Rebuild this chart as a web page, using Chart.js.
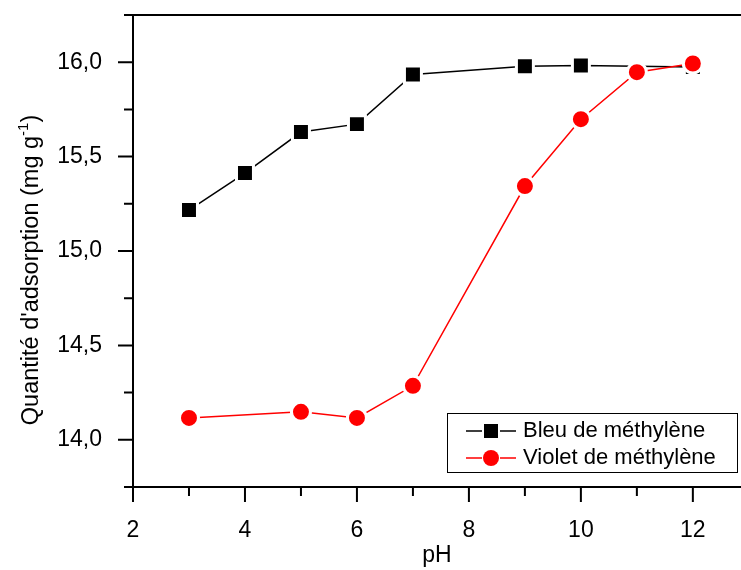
<!DOCTYPE html>
<html>
<head>
<meta charset="utf-8">
<script src="https://cdn.jsdelivr.net/npm/chart.js@4/dist/chart.umd.min.js"></script>
<style>
  html, body { margin: 0; padding: 0; background: #fff; }
  canvas { display: block; }
</style>
</head>
<body>
<canvas id="chart" width="741" height="570"></canvas>
<script>
const phBleu = [3, 4, 5, 6, 7, 9, 10, 12]
const bleu = [15.217, 15.413, 15.630, 15.672, 15.935, 15.979, 15.983, 15.975]
const phViolet = [3, 5, 6, 7, 9, 10, 11, 12]
const violet = [14.116, 14.148, 14.116, 14.286, 15.344, 15.698, 15.947, 15.993]
const seriesNames = ['Bleu de méthylène', 'Violet de méthylène']
const xLabels = [2, 4, 6, 8, 10, 12]
const yLabels = [14.0, 14.5, 15.0, 15.5, 16.0]

const FONT = '"Liberation Sans", Arial, sans-serif'

const isMajor = (v, step) => Math.abs(v / step - Math.round(v / step)) < 1e-6

// Origin-like axes: frame, outward ticks (major / minor), titles, boxed legend
const originPlugin = {
  id: 'originLook',
  afterDraw(chart) {
    const { ctx, chartArea: a, scales: { x, y } } = chart
    ctx.save()
    ctx.strokeStyle = '#000'
    ctx.lineWidth = 2
    ctx.lineCap = 'butt'

    ctx.beginPath()
    ctx.moveTo(a.left - 7, a.top); ctx.lineTo(a.right, a.top)
    ctx.moveTo(a.left, a.top); ctx.lineTo(a.left, a.bottom)
    ctx.moveTo(a.left - 7, a.bottom); ctx.lineTo(a.right, a.bottom)
    ctx.stroke()

    ctx.beginPath()
    y.ticks.forEach(t => {
      const py = y.getPixelForValue(t.value)
      const len = isMajor(t.value, 0.5) ? 15 : 9
      ctx.moveTo(a.left, py); ctx.lineTo(a.left - len, py)
    })
    x.ticks.forEach(t => {
      if (!Number.isInteger(t.value)) return
      const px = x.getPixelForValue(t.value)
      const len = t.value % 2 === 0 ? 15 : 9
      ctx.moveTo(px, a.bottom); ctx.lineTo(px, a.bottom + len)
    })
    ctx.stroke()

    // x title
    ctx.fillStyle = '#000'
    ctx.font = `23px ${FONT}`
    ctx.textAlign = 'center'
    ctx.textBaseline = 'alphabetic'
    ctx.fillText('pH', (a.left + a.right) / 2, 562)

    // y title with superscript
    const main = "Quantité d'adsorption (mg g"
    const sup = '-1'
    const tail = ')'
    ctx.save()
    ctx.translate(38, 270)
    ctx.rotate(-Math.PI / 2)
    ctx.font = `23.5px ${FONT}`
    const wMain = ctx.measureText(main).width
    const wTail = ctx.measureText(tail).width
    ctx.font = `15px ${FONT}`
    const wSup = ctx.measureText(sup).width
    let tx = -(wMain + wSup + wTail) / 2
    ctx.textAlign = 'left'
    ctx.font = `23.5px ${FONT}`
    ctx.fillText(main, tx, 0)
    tx += wMain
    ctx.font = `15px ${FONT}`
    ctx.fillText(sup, tx, -10)
    tx += wSup
    ctx.font = `23.5px ${FONT}`
    ctx.fillText(tail, tx, 0)
    ctx.restore()

    // legend box
    const box = { left: 447, top: 413, right: 737, bottom: 472 }
    ctx.lineWidth = 1
    ctx.strokeRect(box.left + 0.5, box.top + 0.5, box.right - box.left, box.bottom - box.top)
    const rows = [431, 458]
    chart.data.datasets.forEach((ds, i) => {
      const ry = rows[i]
      const mx = 491
      ctx.strokeStyle = ds.borderColor
      ctx.lineWidth = 1.5
      ctx.beginPath()
      ctx.moveTo(466, ry); ctx.lineTo(mx - 9, ry)
      ctx.moveTo(mx + 9, ry); ctx.lineTo(516, ry)
      ctx.stroke()
      ctx.fillStyle = ds.pointBackgroundColor
      if (ds.pointStyle === 'rect') {
        ctx.fillRect(mx - 7, ry - 7, 14, 14)
      } else {
        ctx.beginPath()
        ctx.arc(mx, ry, 8, 0, Math.PI * 2)
        ctx.fill()
      }
      ctx.fillStyle = '#000'
      ctx.font = `22px ${FONT}`
      ctx.textAlign = 'left'
      ctx.textBaseline = 'middle'
      ctx.fillText(ds.label, 523, ry)
    })
    ctx.restore()
  }
}

new Chart(document.getElementById('chart'), {
  type: 'line',
  data: {
    datasets: [
      {
        label: seriesNames[0],
        data: phBleu.map((p, i) => ({ x: p, y: bleu[i] })),
        borderColor: '#000000',
        borderWidth: 1.5,
        pointStyle: 'rect',
        pointRadius: 12,
        pointBackgroundColor: '#000000',
        pointBorderColor: '#ffffff',
        pointBorderWidth: 3,
        tension: 0,
        order: 1
      },
      {
        label: seriesNames[1],
        data: phViolet.map((p, i) => ({ x: p, y: violet[i] })),
        borderColor: '#ff0000',
        borderWidth: 1.5,
        pointStyle: 'circle',
        pointRadius: 9.5,
        pointBackgroundColor: '#ff0000',
        pointBorderColor: '#ffffff',
        pointBorderWidth: 3,
        tension: 0,
        order: 0
      }
    ]
  },
  options: {
    responsive: false,
    animation: false,
    events: [],
    clip: false,
    layout: { autoPadding: false, padding: { top: 15, right: 0, left: 0, bottom: 0 } },
    plugins: {
      legend: { display: false },
      tooltip: { enabled: false }
    },
    scales: {
      x: {
        type: 'linear',
        min: 2,
        max: 12.86,
        grid: { display: false },
        border: { display: false },
        ticks: {
          stepSize: 1,
          includeBounds: false,
          autoSkip: false,
          maxRotation: 0,
          padding: 22,
          color: '#000',
          font: { family: FONT, size: 23 },
          callback: v => xLabels.includes(v) ? String(v) : ''
        },
        afterFit: s => {
          s.height = 83
          s.paddingLeft = 0
          s.paddingRight = 0
        }
      },
      y: {
        min: 13.75,
        max: 16.25,
        grid: { display: false },
        border: { display: false },
        ticks: {
          stepSize: 0.25,
          autoSkip: false,
          padding: 23,
          color: '#000',
          font: { family: FONT, size: 23 },
          callback: v => yLabels.some(l => Math.abs(l - v) < 1e-6) ? v.toFixed(1).replace('.', ',') : ''
        },
        afterFit: s => {
          s.width = 133
          s.paddingTop = 0
          s.paddingBottom = 0
        }
      }
    }
  },
  plugins: [originPlugin]
})
</script>
</body>
</html>
